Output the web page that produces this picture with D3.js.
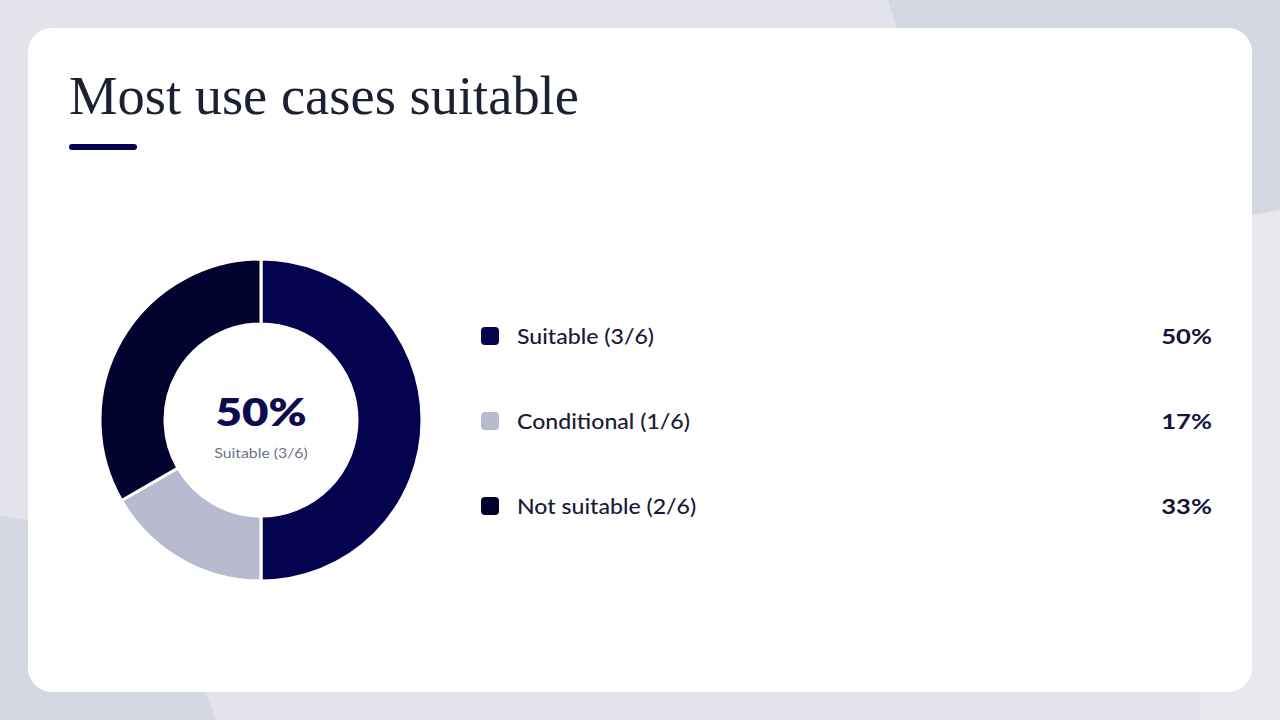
<!DOCTYPE html>
<html><head><meta charset="utf-8">
<script src="https://cdn.jsdelivr.net/npm/d3@7"></script>
<style>html,body{margin:0;padding:0;background:#e3e3eb;overflow:hidden}</style>
</head><body>
<svg id="c" width="1280" height="720"></svg>
<script>
const title = "Most use cases suitable";
const categories = ["Suitable (3/6)", "Conditional (1/6)", "Not suitable (2/6)"];
const counts = [3, 1, 2];
const percentLabels = ["50%", "17%", "33%"];
const colors = ["#03034f", "#b8bbd0", "#02022e"];
const centerValue = "50%";
const centerLabel = "Suitable (3/6)";

const svg = d3.select("#c");
function stretch(sel, f){ const w = sel.node().getComputedTextLength(); sel.attr("textLength", w*f).attr("lengthAdjust","spacingAndGlyphs"); return sel; }

// background shapes
svg.append("rect").attr("width",1280).attr("height",720).attr("fill","#e3e3eb");
svg.append("path").attr("d","M888,0 L1280,0 L1280,210 L1160,240 L900,40 Z").attr("fill","#d5d7e3");
svg.append("path").attr("d","M0,515 L120,540 L205,690 L216,720 L0,720 Z").attr("fill","#d5d7e3");
svg.append("path").attr("d","M1280,210 L1280,720 L1200,720 L1200,225 Z").attr("fill","#e7e7ee");
// card
svg.append("rect").attr("x",28).attr("y",28).attr("width",1224).attr("height",664).attr("rx",24).attr("fill","#ffffff");

// title
const t = svg.append("text").attr("x",69).attr("y",114).attr("fill","#1b2033")
  .attr("font-family","'Liberation Serif', 'DejaVu Serif', serif").attr("font-size",50).text(title);
const w = t.node().getComputedTextLength();
t.attr("font-size", 50*510/w);
svg.append("rect").attr("x",69).attr("y",144).attr("width",68).attr("height",6).attr("rx",3).attr("fill","#03034f");

// donut
const cx = 261, cy = 420;
const pie = d3.pie().sort(null).value(d=>d)(counts);
const arc = d3.arc().innerRadius(96).outerRadius(161);
const g = svg.append("g").attr("transform",`translate(${cx},${cy})`);
g.selectAll("path").data(pie).join("path").attr("d",arc)
  .attr("fill",(d,i)=>colors[i]).attr("stroke","#ffffff").attr("stroke-width",3).attr("stroke-linejoin","miter");

const sans = "Lato, 'Open Sans', sans-serif";
stretch(g.append("text").attr("text-anchor","middle").attr("y",6).attr("font-family",sans)
  .attr("font-weight",800).attr("font-size",38).attr("fill","#0b0b4d").text(centerValue), 1.2);
stretch(g.append("text").attr("text-anchor","middle").attr("y",37.5).attr("font-family",sans)
  .attr("font-size",14).attr("fill","#6b6f8c").text(centerLabel), 1.13);

// legend
const y = d3.scalePoint().domain(categories).range([336,506]);
const lg = svg.append("g");
categories.forEach((c,i)=>{
  const yy = y(c);
  lg.append("rect").attr("x",481).attr("y",yy-9).attr("width",18).attr("height",18).attr("rx",4).attr("fill",colors[i]);
  stretch(lg.append("text").attr("x",517).attr("y",yy+7.5).attr("font-family",sans).attr("font-size",21)
    .attr("font-weight",500).attr("fill","#1a1a38").text(c), 1.1);
  stretch(lg.append("text").attr("x",1212).attr("y",yy+7.5).attr("text-anchor","end").attr("font-family",sans)
    .attr("font-size",21).attr("font-weight",700).attr("fill","#14143a").text(percentLabels[i]), 1.22);
});
</script>
</body></html>
